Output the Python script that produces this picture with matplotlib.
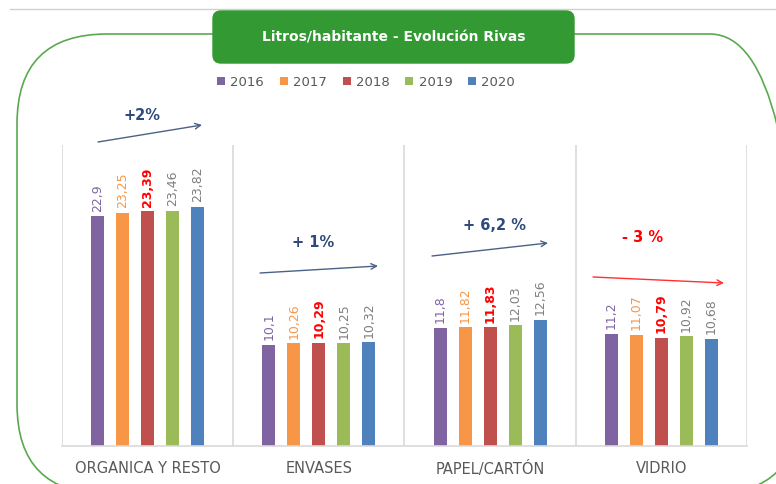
#!/usr/bin/env python

import numpy as np
import matplotlib
matplotlib.use('Agg')
from matplotlib import pyplot as plt
from matplotlib.patches import FancyBboxPatch
from matplotlib.lines import Line2D

categories = ["ORGANICA Y RESTO", "ENVASES", "PAPEL/CARTÓN", "VIDRIO"]
years = ["2016", "2017", "2018", "2019", "2020"]

v2016 = [22.9, 10.1, 11.8, 11.2]
v2017 = [23.25, 10.26, 11.82, 11.07]
v2018 = [23.39, 10.29, 11.83, 10.79]
v2019 = [23.46, 10.25, 12.03, 10.92]
v2020 = [23.82, 10.32, 12.56, 10.68]

trends = ["+2%", "+ 1%", "+ 6,2 %", "- 3 %"]

W, H = 776, 485

def px(x, y):
	# pixel position (from top-left) -> figure fraction
	return (x / W, 1 - y / H)

def main():
	series = [v2016, v2017, v2018, v2019, v2020]
	bar_colors = ["#8064A2", "#F79646", "#C0504D", "#9BBB59", "#4F81BD"]
	label_colors = ["#8064A2", "#F79646", "#FF0000", "#7F7F7F", "#7F7F7F"]
	label_weights = ["normal", "normal", "bold", "normal", "normal"]

	plt.rcParams['font.family'] = ['DejaVu Sans']

	fig = plt.figure(figsize=(W / 100, H / 100), dpi=100)
	ax = fig.add_axes([62 / W, 38 / H, (747 - 62) / W, (447 - 146) / H])

	# thin gray line at the very top
	fig.add_artist(Line2D([10 / W, 1], [1 - 10 / H] * 2, transform=fig.transFigure,
						  color="#d0d0d0", lw=1))

	# rounded green frame (runs off the right and bottom edges)
	frame = FancyBboxPatch((0.17, -0.10), 7.83, 4.60,
						   boxstyle="round,pad=0,rounding_size=0.9",
						   transform=fig.dpi_scale_trans, fill=False,
						   edgecolor="#5aa94f", lw=1.2, zorder=0)
	fig.add_artist(frame)

	# title box
	tb = FancyBboxPatch((2.13, (H - 64) / 100), 3.61, 0.52,
						boxstyle="round,pad=0,rounding_size=0.08",
						transform=fig.dpi_scale_trans,
						facecolor="#339933", edgecolor="#339933", zorder=2)
	fig.add_artist(tb)
	fig.text(*px(394, 38), "Litros/habitante - Evolución Rivas", color="white",
			 fontsize=10, fontweight="bold", ha="center", va="center", zorder=3)

	x = np.arange(len(categories))
	width = 0.077
	step = 0.146
	handles = []
	for i, vals in enumerate(series):
		pos = x + (i - 2) * step
		b = ax.bar(pos, vals, width, color=bar_colors[i], label=years[i], zorder=2)
		handles.append(b)
		for xp, v in zip(pos, vals):
			ax.annotate(str(v).replace(".", ","), (xp, v), xytext=(0, 4),
						textcoords="offset points", rotation=90,
						ha="center", va="bottom", fontsize=9,
						color=label_colors[i], fontweight=label_weights[i])

	ax.set_xlim(-0.5, len(categories) - 0.5)
	ax.set_ylim(0, 30)
	for s in ["top", "right", "left"]:
		ax.spines[s].set_visible(False)
	ax.spines["bottom"].set_color("#d9d9d9")
	ax.spines["bottom"].set_linewidth(1.2)
	for b in np.arange(-0.5, len(categories), 1.0):
		ax.axvline(b, color="#d9d9d9", lw=1.2, zorder=1)
	ax.set_yticks([])
	ax.set_xticks(x)
	ax.set_xticklabels(categories, fontsize=10.5, color="#595959")
	ax.tick_params(axis="x", length=0, pad=10)

	fig.legend(handles, years, loc="center", bbox_to_anchor=px(366, 83), ncol=5,
			   frameon=False, fontsize=9.5, labelcolor="#595959",
			   handlelength=0.6, handleheight=0.6, handletextpad=0.4, columnspacing=1.2)

	# trend arrows and labels
	arrows = [((98, 143), (202, 126)), ((260, 274), (378, 267)),
			  ((432, 257), (548, 244)), ((593, 278), (724, 284))]
	text_pos = [(142, 115), (313, 243), (495, 225), (643, 238)]
	trend_colors = ["#2E4A7A", "#2E4A7A", "#2E4A7A", "#FF0000"]
	arrow_colors = ["#4A6286", "#4A6286", "#4A6286", "#FF3030"]
	for j, t in enumerate(trends):
		(x0, y0), (x1, y1) = arrows[j]
		ax.annotate("", xy=px(x1, y1), xytext=px(x0, y0), xycoords="figure fraction",
					textcoords="figure fraction",
					arrowprops=dict(arrowstyle="->", color=arrow_colors[j], lw=1,
									shrinkA=0, shrinkB=0))
		fig.text(*px(*text_pos[j]), t, color=trend_colors[j], fontsize=10.5,
				 fontweight="bold", ha="center", va="center")

	plt.savefig("out.png", dpi=100)
	return 0

if __name__ == "__main__":
	exit(main())
